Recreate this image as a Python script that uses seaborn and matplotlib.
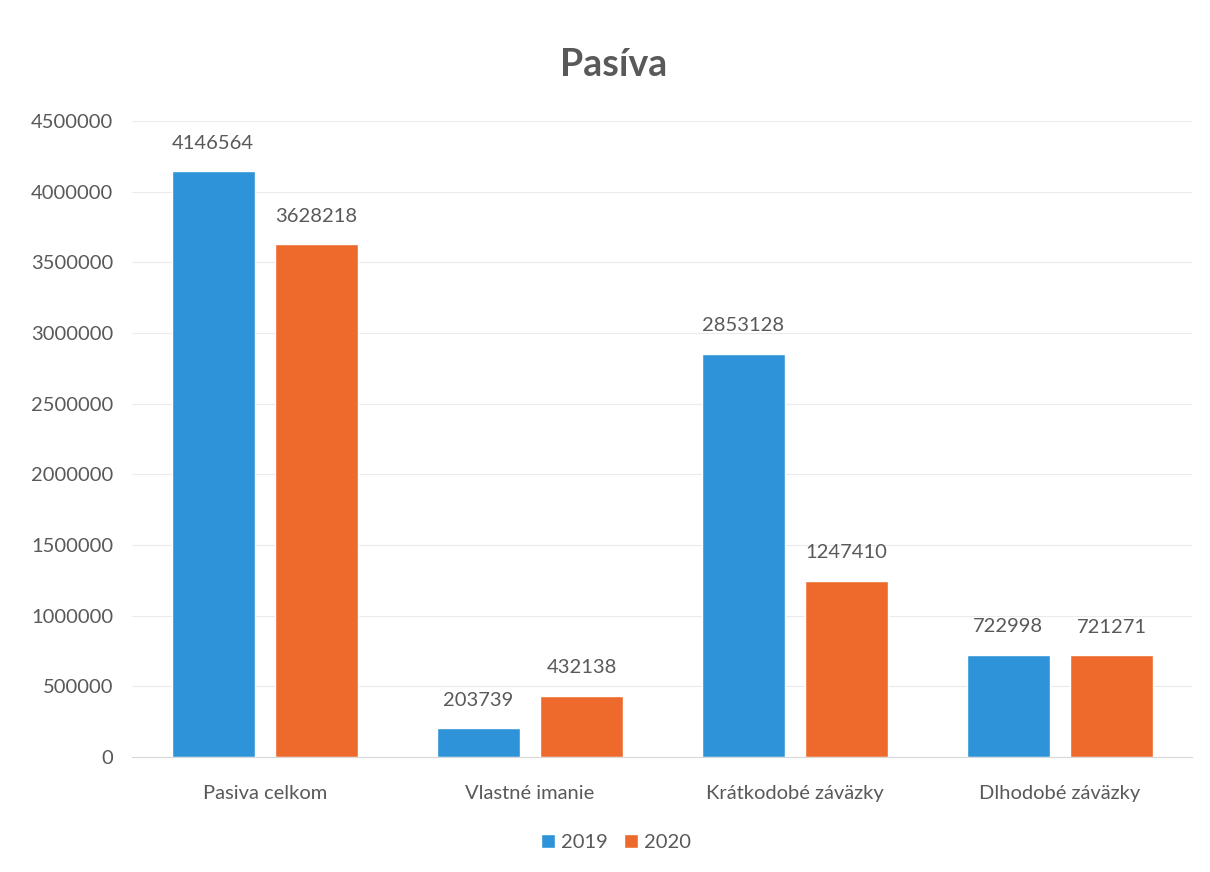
import pandas as pd
import matplotlib.pyplot as plt
import seaborn as sns

categories = ["Pasiva celkom", "Vlastné imanie", "Krátkodobé záväzky", "Dlhodobé záväzky"]
years = ["2019", "2020"]
values_2019 = [4146564, 203739, 2853128, 722998]
values_2020 = [3628218, 432138, 1247410, 721271]
y_ticks = [0, 500000, 1000000, 1500000, 2000000, 2500000, 3000000, 3500000, 4000000, 4500000]

df = pd.DataFrame({
    "kategoria": categories * 2,
    "rok": [years[0]] * 4 + [years[1]] * 4,
    "hodnota": values_2019 + values_2020,
})

sns.set_style("white")
plt.rcParams["font.family"] = ["Lato", "DejaVu Sans"]
text_color = "#595959"

fig = plt.figure(figsize=(12.1, 8.72), dpi=100)
ax = fig.add_axes([0.1095, 0.1319, 0.876, 0.7293])

palette = {"2019": "#2E93D8", "2020": "#EE6A2C"}
sns.barplot(data=df, x="kategoria", y="hodnota", hue="rok", order=categories,
            hue_order=years, palette=palette, width=0.78, gap=0.2,
            saturation=1, ax=ax, legend=True)

for container in ax.containers:
    ax.bar_label(container, labels=[str(int(v)) for v in container.datavalues],
                 padding=14, fontsize=14.5, color=text_color)

ax.set_ylim(0, 4500000)
ax.set_xlim(-0.5, 3.5)
ax.set_yticks(y_ticks)
ax.set_yticklabels([str(t) for t in y_ticks], fontsize=14.5, color=text_color)
ax.tick_params(axis="x", labelsize=14.5, labelcolor=text_color, length=0, pad=20)
ax.tick_params(axis="y", length=0, pad=14)
ax.grid(axis="y", color="#EBEBEB", linewidth=0.8)
ax.set_axisbelow(True)
for s in ["top", "right", "left"]:
    ax.spines[s].set_visible(False)
ax.spines["bottom"].set_color("#D9D9D9")
ax.set_xlabel("")
ax.set_ylabel("")

fig.text(0.507, 0.925, "Pasíva", fontsize=27, fontweight="bold",
         color=text_color, ha="center", va="center")

handles, labels = ax.get_legend_handles_labels()
ax.get_legend().remove()
fig.legend(handles, labels, loc="center", bbox_to_anchor=(0.509, 0.034),
           ncol=2, frameon=False, fontsize=14.5, handlelength=0.7, handleheight=0.7,
           handletextpad=0.3, columnspacing=0.8, labelcolor=text_color)

fig.savefig("out.png", dpi=100)
